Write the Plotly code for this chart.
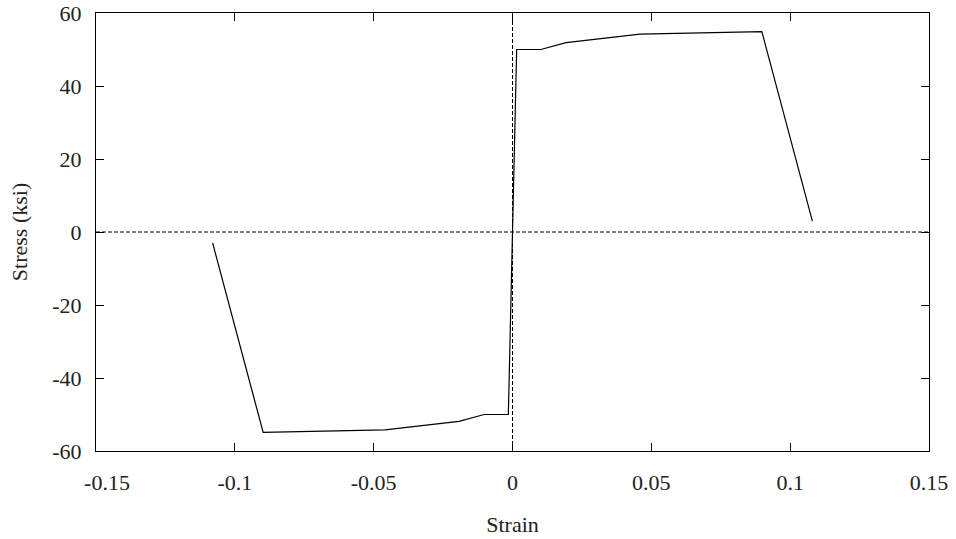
import plotly.graph_objects as go

strain = [-0.108, -0.0898, -0.0459, -0.0193, -0.0102, -0.0015, 0.0, 0.0015, 0.0102, 0.0193, 0.0459, 0.0898, 0.108]
stress = [-3.0, -54.9, -54.2, -51.9, -50.0, -50.0, 0.0, 50.0, 50.0, 51.9, 54.2, 54.9, 3.0]

x_ticks = [-0.15, -0.1, -0.05, 0, 0.05, 0.1, 0.15]
x_tick_labels = ["\u00a0\u00a0\u00a0\u00a0-0.15", "-0.1", "-0.05", "0", "0.05", "0.1", "0.15"]
y_ticks = [-60, -40, -20, 0, 20, 40, 60]
y_tick_labels = ["-60", "-40", "-20", "0", "20", "40", "60"]

font_family = "'Liberation Serif', 'DejaVu Serif', serif"
txt_color = "#222"

fig = go.Figure()
fig.add_trace(go.Scatter(x=strain, y=stress, mode="lines",
                         line=dict(color="black", width=1.2), showlegend=False,
                         hoverinfo="skip"))

fig.add_shape(type="line", xref="x", yref="y", x0=-0.15, x1=0.15, y0=0, y1=0,
              line=dict(color="black", width=1, dash="4px,2px"), layer="below")
fig.add_shape(type="line", xref="x", yref="y", x0=0, x1=0, y0=-60, y1=60,
              line=dict(color="black", width=1, dash="4px,2px"), layer="below")

axis_common = dict(showline=True, linecolor="black", linewidth=1, mirror="allticks",
                   ticks="inside", ticklen=8, tickcolor="black", tickwidth=1,
                   showgrid=False, zeroline=False, automargin=False,
                   tickfont=dict(family=font_family, size=22, color=txt_color))

fig.update_xaxes(range=[-0.15, 0.15], tickvals=x_ticks, ticktext=x_tick_labels,
                 title=dict(text="Strain", font=dict(family=font_family, size=22, color=txt_color), standoff=22),
                 ticklabelstandoff=12, **axis_common)
fig.update_yaxes(range=[-60, 60], tickvals=y_ticks, ticktext=y_tick_labels,
                 title=dict(text="Stress (ksi)", font=dict(family=font_family, size=22, color=txt_color), standoff=18),
                 ticklabelstandoff=9, **axis_common)

fig.update_layout(width=956, height=539, margin=dict(l=96, r=27, t=13, b=88, autoexpand=False),
                  plot_bgcolor="white", paper_bgcolor="white",
                  font=dict(family=font_family))

fig.write_html("out.html")
